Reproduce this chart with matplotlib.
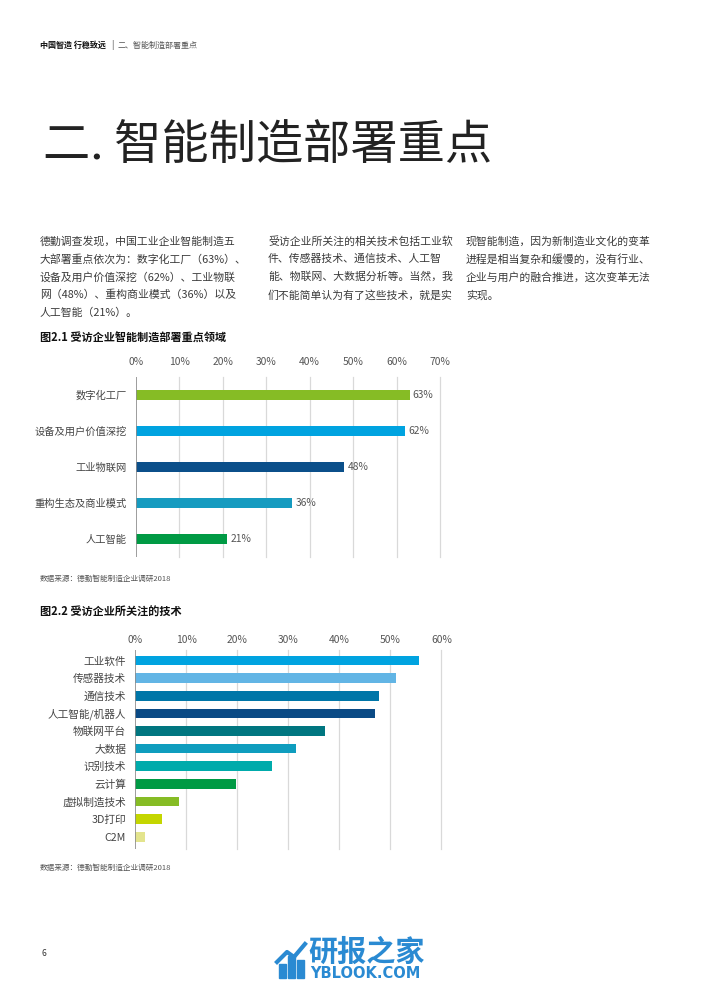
import matplotlib.pyplot as plt
from matplotlib.patches import Rectangle

plt.rcParams['font.family'] = ['Noto Sans CJK SC', 'DejaVu Sans']

# fig 2.1
areas = ["数字化工厂", "设备及用户价值深挖", "工业物联网", "重构生态及商业模式", "人工智能"]
area_vals = [63, 62, 48, 36, 21]
area_colors = ["#86BC25", "#00A3E0", "#0B4F8A", "#169BC0", "#009A44"]
ticks1 = [0, 10, 20, 30, 40, 50, 60, 70]

# fig 2.2
techs = ["工业软件", "传感器技术", "通信技术", "人工智能/机器人", "物联网平台", "大数据",
         "识别技术", "云计算", "虚拟制造技术", "3D打印", "C2M"]
tech_vals = [55.5, 51, 47.7, 47, 37.2, 31.5, 26.8, 19.8, 8.6, 5.3, 2]
tech_colors = ["#00A3E0", "#62B5E5", "#0076A8", "#0A4A85", "#007680", "#0E9DBE",
               "#00ABAB", "#009A44", "#86BC25", "#C4D600", "#E3E48D"]
ticks2 = [0, 10, 20, 30, 40, 50, 60]

W, H = 702, 991


def fx(px):
    return px / W


def fy(py):
    return 1 - py / H


fig = plt.figure(figsize=(7.02, 9.91), dpi=100)
fig.patch.set_facecolor("white")

# header
fig.text(fx(40), fy(45), "中国智造 行稳致远", fontsize=5.8, fontweight="bold", color="#111111", va="center")
fig.text(fx(111), fy(45), "|", fontsize=6.5, color="#555555", va="center")
fig.text(fx(118), fy(45), "二、智能制造部署重点", fontsize=5.8, color="#555555", va="center")

# big title
fig.text(fx(43), fy(146), "二. 智能制造部署重点", fontsize=34, fontweight="light", color="#222222", va="center")

col1 = ["德勤调查发现，中国工业企业智能制造五",
        "大部署重点依次为：数字化工厂（63%）、",
        "设备及用户价值深挖（62%）、工业物联",
        "网（48%）、重构商业模式（36%）以及",
        "人工智能（21%）。"]
col2 = ["受访企业所关注的相关技术包括工业软",
        "件、传感器技术、通信技术、人工智",
        "能、物联网、大数据分析等。当然，我",
        "们不能简单认为有了这些技术，就是实"]
col3 = ["现智能制造，因为新制造业文化的变革",
        "进程是相当复杂和缓慢的，没有行业、",
        "企业与用户的融合推进，这次变革无法",
        "实现。"]
for x0, lines in [(40, col1), (268, col2), (466, col3)]:
    for k, line in enumerate(lines):
        fig.text(fx(x0), fy(241 + 18 * k), line, fontsize=7.8, color="#3a3a3a", va="center")

# chart titles and sources
fig.text(fx(40), fy(338), "图2.1 受访企业智能制造部署重点领域", fontsize=8, fontweight="bold", color="#111111", va="center")
fig.text(fx(40), fy(579), "数据来源：德勤智能制造企业调研2018", fontsize=5.5, color="#555555", va="center")
fig.text(fx(40), fy(612), "图2.2 受访企业所关注的技术", fontsize=8, fontweight="bold", color="#111111", va="center")
fig.text(fx(40), fy(868), "数据来源：德勤智能制造企业调研2018", fontsize=5.5, color="#555555", va="center")
fig.text(fx(42), fy(953), "6", fontsize=6, color="#333333", va="center")


def bar_chart(rect, cats, vals, colors, ticks, ylim, height, pad, size, labels=False):
    left, top, right, bottom = rect
    ax = fig.add_axes([fx(left), fy(bottom), fx(right) - fx(left), (bottom - top) / H])
    y = list(range(len(cats)))
    ax.barh(y, vals, color=colors, height=height, zorder=3)
    ax.set_xlim(ticks[0], ticks[-1])
    ax.set_ylim(*ylim)
    ax.set_xticks(ticks)
    ax.set_xticklabels([f"{t}%" for t in ticks])
    ax.set_yticks(y)
    ax.set_yticklabels(cats)
    ax.xaxis.tick_top()
    ax.tick_params(axis="x", length=0, pad=pad, labelsize=7.4, labelcolor="#555555")
    ax.tick_params(axis="y", length=0, pad=6.5, labelsize=size, labelcolor="#444444")
    for s in ax.spines.values():
        s.set_visible(False)
    for t in ticks[1:]:
        ax.axvline(t, color="#d9d9d9", lw=0.9, zorder=1, clip_on=False)
    ax.axvline(0, color="#8c8c8c", lw=1.2, zorder=4)
    if labels:
        for i, v in enumerate(vals):
            ax.text(v + 0.7, i, f"{v}%", va="center", ha="left", fontsize=7.4, color="#555555")
    return ax


bar_chart((136, 377, 440, 557), areas, area_vals, area_colors, ticks1, (4.5, -0.5), 0.26, 7, 7.4, labels=True)
bar_chart((135, 650, 441.5, 849), techs, tech_vals, tech_colors, ticks2, (10.7, -0.6), 0.55, 3.5, 7.7)

# watermark logo
logo = "#2a8ad2"
for bx, bh in [(279, 14), (288, 22), (297, 18)]:
    fig.patches.append(Rectangle((fx(bx), fy(978)), fx(7), bh / H, transform=fig.transFigure,
                                 color=logo, zorder=5))
fig.lines.append(plt.Line2D([fx(277), fx(287), fx(294), fx(305)], [fy(962), fy(952), fy(957), fy(944)],
                            transform=fig.transFigure, color=logo, lw=3))
fig.text(fx(308), fy(952), "研报之家", fontsize=21, fontweight="bold", color=logo, va="center")
fig.text(fx(310), fy(973), "YBLOOK.COM", fontsize=10.5, fontweight="bold", color=logo, va="center",
         family=["DejaVu Sans"])

fig.savefig("out.png", dpi=100)
